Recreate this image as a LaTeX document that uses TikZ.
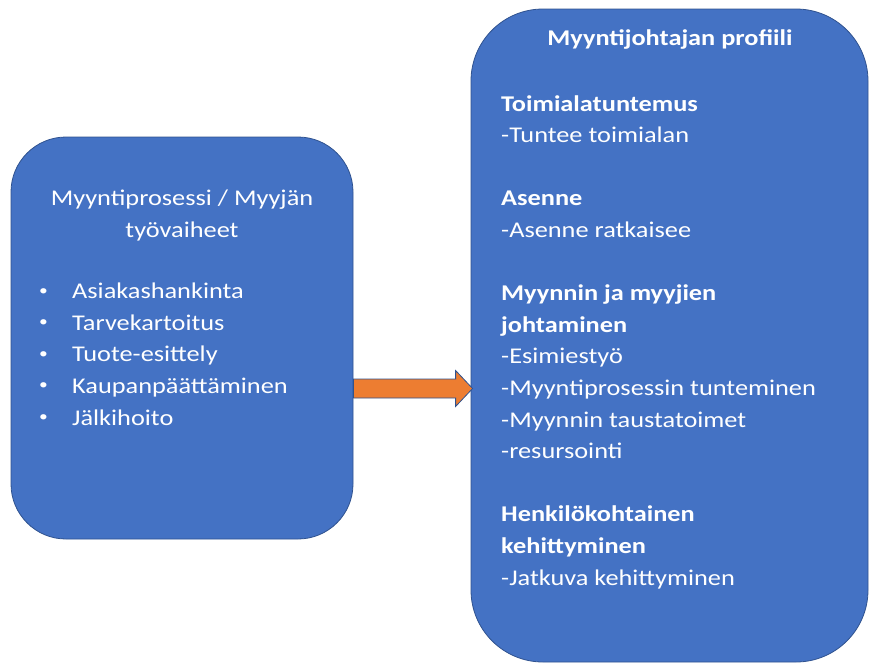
\documentclass[tikz,border=0pt]{standalone}
\usepackage{fontspec}
\setmainfont{Carlito}[FakeStretch=1.17]
\usetikzlibrary{calc}
\definecolor{boxblue}{HTML}{4472C4}
\definecolor{edgeblue}{HTML}{2F528F}
\definecolor{arroworange}{HTML}{ED7D31}
\newcommand{\blt}{\makebox[33pt][l]{\raisebox{3.5pt}{\fontsize{15}{15}\selectfont•}}}
\tikzset{
  panel/.style={draw=edgeblue, line width=0.8pt, fill=boxblue, inner sep=0pt},
  txt/.style={text=white, inner sep=0pt, font=\fontsize{22.5}{31.6}\selectfont},
  btxt/.style={txt, font=\fontsize{22.5}{31.6}\selectfont\bfseries},
  arrowbody/.style={fill=arroworange, draw=edgeblue, line width=0.8pt}
}
\begin{document}
\begin{tikzpicture}[x=1pt, y=-1pt]
\useasboundingbox (0,0) rectangle (869,664);
% boxes
\node[panel, rounded corners=55pt, minimum width=342pt, minimum height=402pt] (left) at (182,338) {};
\node[panel, rounded corners=72pt, minimum width=397pt, minimum height=653pt] (right) at (669.5,335.5) {};
% arrow
\coordinate (ay) at (0,388.5);
\coordinate (A) at (left.east |- ay);
\coordinate (T) at ([xshift=2pt]right.west |- ay);
\draw[arrowbody] ([yshift=9.5pt]A) -- ([xshift=-17pt,yshift=9.5pt]T) -- ([xshift=-17pt,yshift=18pt]T) -- (T)
  -- ([xshift=-17pt,yshift=-18pt]T) -- ([xshift=-17pt,yshift=-9.5pt]T) -- ([yshift=-9.5pt]A) -- cycle;
% left text (base anchor = last line's baseline)
\node[txt, anchor=base, align=center] (ltitle) at (182,237) {Myyntiprosessi / Myyjän\\työvaiheet};
\node[txt, anchor=base west, align=left] (lbul) at (39,425) {\blt Asiakashankinta\\
\blt Tarvekartoitus\\
\blt Tuote-esittely\\
\blt Kaupanpäättäminen\\
\blt Jälkihoito};
% right text
\node[btxt, anchor=base] (rtitle) at (670,45) {Myyntijohtajan profiili};
\node[txt, anchor=base west, align=left] (rbody) at (501,585) {\textbf{Toimialatuntemus}\\
-Tuntee toimialan\\[31.6pt]
\textbf{Asenne}\\
-Asenne ratkaisee\\[31.6pt]
\textbf{Myynnin ja myyjien}\\
\textbf{johtaminen}\\
-Esimiestyö\\
-Myyntiprosessin tunteminen\\
-Myynnin taustatoimet\\
-resursointi\\[31.6pt]
\textbf{Henkilökohtainen}\\
\textbf{kehittyminen}\\
-Jatkuva kehittyminen};
\end{tikzpicture}
\end{document}
